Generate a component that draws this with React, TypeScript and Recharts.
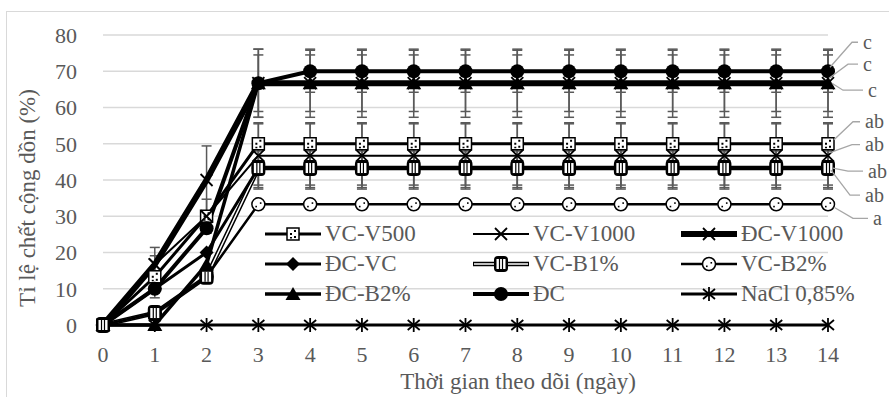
import React from "react"
import { LineChart, Line, XAxis, YAxis, CartesianGrid, ErrorBar } from "recharts"

const days = [0, 1, 2, 3, 4, 5, 6, 7, 8, 9, 10, 11, 12, 13, 14]
const yTicks = [0, 10, 20, 30, 40, 50, 60, 70, 80]

// cumulative mortality (%) per day
const vcV500 = [0, 13.3, 30, 50, 50, 50, 50, 50, 50, 50, 50, 50, 50, 50, 50]
const vcV1000 = [0, 16.7, 30, 46.7, 46.7, 46.7, 46.7, 46.7, 46.7, 46.7, 46.7, 46.7, 46.7, 46.7, 46.7]
const dcV1000 = [0, 16.7, 40, 66.7, 66.7, 66.7, 66.7, 66.7, 66.7, 66.7, 66.7, 66.7, 66.7, 66.7, 66.7]
const dcVc = [0, 10, 20, 43.3, 43.3, 43.3, 43.3, 43.3, 43.3, 43.3, 43.3, 43.3, 43.3, 43.3, 43.3]
const vcB1 = [0, 3.3, 13.3, 43.3, 43.3, 43.3, 43.3, 43.3, 43.3, 43.3, 43.3, 43.3, 43.3, 43.3, 43.3]
const vcB2 = [0, 3.3, 13.3, 33.3, 33.3, 33.3, 33.3, 33.3, 33.3, 33.3, 33.3, 33.3, 33.3, 33.3, 33.3]
const dcB2 = [0, 0, 16.7, 66.7, 66.7, 66.7, 66.7, 66.7, 66.7, 66.7, 66.7, 66.7, 66.7, 66.7, 66.7]
const dc = [0, 10, 26.7, 66.7, 70, 70, 70, 70, 70, 70, 70, 70, 70, 70, 70]
const nacl = [0, 0, 0, 0, 0, 0, 0, 0, 0, 0, 0, 0, 0, 0, 0]

// error bars (±)
const eVcV500 = [0, 5.8, 4.7, 5.8, 5.8, 5.8, 5.8, 5.8, 5.8, 5.8, 5.8, 5.8, 5.8, 5.8, 5.8]
const eVcV1000 = [0, 0, 0, 8.8, 8.8, 8.8, 8.8, 8.8, 8.8, 8.8, 8.8, 8.8, 8.8, 8.8, 8.8]
const eDcV1000 = [0, 4.7, 9.4, 9.4, 9.4, 9.4, 9.4, 9.4, 9.4, 9.4, 9.4, 9.4, 9.4, 9.4, 9.4]
const eDcVc = [0, 0, 0, 5.8, 5.8, 5.8, 5.8, 5.8, 5.8, 5.8, 5.8, 5.8, 5.8, 5.8, 5.8]
const eVcB1 = [0, 0, 0, 4.7, 4.7, 4.7, 4.7, 4.7, 4.7, 4.7, 4.7, 4.7, 4.7, 4.7, 4.7]
const eDcB2 = [0, 0, 0, 7.8, 7.8, 7.8, 7.8, 7.8, 7.8, 7.8, 7.8, 7.8, 7.8, 7.8, 7.8]
const eDc = [0, 0, 0, 9.4, 5.8, 5.8, 5.8, 5.8, 5.8, 5.8, 5.8, 5.8, 5.8, 5.8, 5.8]

const FONT = "'Liberation Serif', 'Times New Roman', serif"
const GRAY = "#595959"

type Marker = (cx: number, cy: number) => React.ReactNode

const dottedSquare: Marker = (cx, cy) => (
  <g>
    <rect x={cx - 6} y={cy - 6} width={12} height={12} fill="#fff" stroke="#000" strokeWidth={1.5} />
    <rect x={cx + 1} y={cy - 4} width={2} height={2} fill="#000" />
    <rect x={cx - 3} y={cy - 1} width={2} height={2} fill="#000" />
    <rect x={cx + 1} y={cy + 2} width={2} height={2} fill="#000" />
    <rect x={cx - 3} y={cy + 3} width={2} height={1.5} fill="#000" />
  </g>
)
const cross: Marker = (cx, cy) => (
  <g stroke="#000" strokeWidth={1.8}>
    <line x1={cx - 6} y1={cy - 6} x2={cx + 6} y2={cy + 6} />
    <line x1={cx - 6} y1={cy + 6} x2={cx + 6} y2={cy - 6} />
  </g>
)
const diamond: Marker = (cx, cy) => (
  <polygon points={`${cx},${cy - 7} ${cx + 7},${cy} ${cx},${cy + 7} ${cx - 7},${cy}`} fill="#000" />
)
const striped: Marker = (cx, cy) => (
  <g>
    <rect x={cx - 7} y={cy - 8} width={14} height={16} rx={4} fill="#000" />
    <rect x={cx - 4.5} y={cy - 5} width={9} height={10} fill="#fff" />
    <line x1={cx - 1.5} y1={cy - 5} x2={cx - 1.5} y2={cy + 5} stroke="#000" strokeWidth={1.2} />
    <line x1={cx + 1.5} y1={cy - 5} x2={cx + 1.5} y2={cy + 5} stroke="#000" strokeWidth={1.2} />
  </g>
)
const openCircle: Marker = (cx, cy) => (
  <g>
    <circle cx={cx} cy={cy} r={6.5} fill="#fff" stroke="#000" strokeWidth={1.5} />
    <rect x={cx - 3} y={cy + 1.5} width={1.6} height={1.6} fill="#000" />
    <rect x={cx + 1.5} y={cy - 2} width={1.6} height={1.6} fill="#000" />
  </g>
)
const triangle: Marker = (cx, cy) => (
  <polygon points={`${cx},${cy - 7} ${cx + 7.5},${cy + 6} ${cx - 7.5},${cy + 6}`} fill="#000" />
)
const solidCircle: Marker = (cx, cy) => <circle cx={cx} cy={cy} r={7} fill="#000" />
const star: Marker = (cx, cy) => (
  <g stroke="#000" strokeWidth={1.8}>
    <line x1={cx} y1={cy - 7} x2={cx} y2={cy + 7} />
    <line x1={cx - 6} y1={cy - 5} x2={cx + 6} y2={cy + 5} />
    <line x1={cx - 6} y1={cy + 5} x2={cx + 6} y2={cy - 5} />
  </g>
)

type Note = { text: string; sx: number; sy: number; ex: number; tx: number; ty: number }

type Series = {
  key: string
  name: string
  values: number[]
  errors: number[] | null
  width: number
  marker: Marker
  double?: boolean
  note?: Note
}

const series: Series[] = [
  { key: "vcV500", name: "VC-V500", values: vcV500, errors: eVcV500, width: 3, marker: dottedSquare,
    note: { text: "ab", sx: 6, sy: -4, ex: 25, tx: 37, ty: -22 } },
  { key: "vcV1000", name: "VC-V1000", values: vcV1000, errors: eVcV1000, width: 2, marker: cross,
    note: { text: "ab", sx: 2, sy: -3, ex: 24, tx: 37, ty: -11 } },
  { key: "dcV1000", name: "ĐC-V1000", values: dcV1000, errors: eDcV1000, width: 6, marker: cross,
    note: { text: "c", sx: 1, sy: -5, ex: 20, tx: 35, ty: -19 } },
  { key: "vcB1", name: "VC-B1%", values: vcB1, errors: eVcB1, width: 4.5, marker: striped, double: true,
    note: { text: "ab", sx: 5, sy: 0, ex: 20, tx: 40, ty: 3 } },
  { key: "dcVc", name: "ĐC-VC", values: dcVc, errors: eDcVc, width: 3, marker: diamond,
    note: { text: "ab", sx: 3, sy: 2, ex: 22, tx: 37, ty: 27 } },
  { key: "vcB2", name: "VC-B2%", values: vcB2, errors: null, width: 2.5, marker: openCircle,
    note: { text: "a", sx: 6, sy: 3, ex: 25, tx: 45, ty: 14 } },
  { key: "dcB2", name: "ĐC-B2%", values: dcB2, errors: eDcB2, width: 3.5, marker: triangle,
    note: { text: "c", sx: 4, sy: 0, ex: 15, tx: 40, ty: 7 } },
  { key: "dc", name: "ĐC", values: dc, errors: eDc, width: 4, marker: solidCircle,
    note: { text: "c", sx: 2, sy: -4, ex: 24, tx: 35, ty: -29 } },
  { key: "nacl", name: "NaCl 0,85%", values: nacl, errors: null, width: 3, marker: star },
]

const legendOrder = ["vcV500", "vcV1000", "dcV1000", "dcVc", "vcB1", "vcB2", "dcB2", "dc", "nacl"]

const data = days.map((d, i) => {
  const row: Record<string, number | null> = { day: d }
  series.forEach((s) => {
    row[s.key] = s.values[i]
    row[s.key + "_e"] = s.errors && s.errors[i] ? s.errors[i] : null
  })
  return row
})

const lastIndex = days.length - 1

function noteLabel(note?: Note) {
  return (props: any) => {
    if (!note || props.index !== lastIndex) return null
    const { x, y } = props
    return (
      <g key={`note-${note.tx}-${note.ty}`}>
        <polyline
          points={`${x + note.sx},${y + note.sy} ${x + note.ex},${y + note.ty} ${x + note.tx - 5},${y + note.ty}`}
          fill="none"
          stroke="#a6a6a6"
          strokeWidth={1.3}
        />
        <text x={x + note.tx} y={y + note.ty} dy="0.33em" fontSize={20} fill={GRAY} fontFamily={FONT}>
          {note.text}
        </text>
      </g>
    )
  }
}

function LegendBox() {
  return (
    <div
      style={{
        position: "absolute",
        left: 265,
        top: 219,
        display: "grid",
        gridTemplateColumns: "208px 208px 208px",
        fontFamily: FONT,
      }}
    >
      {legendOrder.map((k) => {
        const s = series.find((x) => x.key === k)!
        return (
          <div key={k} style={{ display: "flex", alignItems: "center", height: 30 }}>
            <svg width={56} height={22} style={{ overflow: "visible" }}>
              <line x1={0} y1={11} x2={56} y2={11} stroke="#000" strokeWidth={s.width} />
              {s.double && <line x1={1} y1={11} x2={55} y2={11} stroke="#fff" strokeWidth={1.5} />}
              {s.marker(28, 11)}
            </svg>
            <span style={{ fontSize: 23, color: GRAY, marginLeft: 4, lineHeight: "22px", whiteSpace: "nowrap" }}>
              {s.name}
            </span>
          </div>
        )
      })}
    </div>
  )
}

export default function App() {
  return (
    <div style={{ position: "absolute", left: 0, top: 0, width: 889, height: 397, overflow: "hidden", background: "#fff" }}>
      <div
        style={{
          position: "absolute",
          left: 6,
          top: 11,
          width: 900,
          height: 400,
          border: "1.5px solid #d9d9d9",
        }}
      />
      <LineChart width={889} height={397} data={data} margin={{ top: 35, right: 61, bottom: 42, left: 0 }}>
        <CartesianGrid vertical={false} stroke="#d9d9d9" strokeWidth={1.5} />
        <XAxis
          dataKey="day"
          type="number"
          domain={[0, 14]}
          ticks={days}
          interval={0}
          axisLine={false}
          tickLine={false}
          tickSize={0}
          tickMargin={21}
          height={30}
          tick={{ fontSize: 22, fill: GRAY, fontFamily: FONT }}
          label={(props: any) => {
            const vb = props.viewBox
            return (
              <text x={518} y={vb.y + 64} textAnchor="middle" fontSize={23} fill={GRAY} fontFamily={FONT}>
                Thời gian theo dõi (ngày)
              </text>
            )
          }}
        />
        <YAxis
          domain={[0, 80]}
          ticks={yTicks}
          interval={0}
          width={103}
          axisLine={false}
          tickLine={false}
          tickSize={0}
          tickMargin={26}
          tick={{ fontSize: 22, fill: GRAY, fontFamily: FONT }}
          label={(props: any) => {
            const vb = props.viewBox
            const cx = 27
            const cy = vb.y + vb.height / 2 + 18
            return (
              <text
                x={cx}
                y={cy}
                transform={`rotate(-90 ${cx} ${cy})`}
                textAnchor="middle"
                dominantBaseline="central"
                fontSize={23}
                fill={GRAY}
                fontFamily={FONT}
              >
                Tỉ lệ chết cộng dồn (%)
              </text>
            )
          }}
        />
        {series.map((s) => [
          <Line
            key={s.key}
            dataKey={s.key}
            name={s.name}
            type="linear"
            stroke="#000"
            strokeWidth={s.width}
            dot={s.double ? false : (p: any) => <g key={`${s.key}-${p.index}`}>{s.marker(p.cx, p.cy)}</g>}
            activeDot={false}
            isAnimationActive={false}
            label={noteLabel(s.note)}
          >
            {s.errors && (
              <ErrorBar dataKey={s.key + "_e"} direction="y" width={5} stroke={GRAY} strokeWidth={1.5} />
            )}
          </Line>,
          s.double ? (
            <Line
              key={s.key + "-core"}
              dataKey={s.key}
              legendType="none"
              type="linear"
              stroke="#fff"
              strokeWidth={1.5}
              dot={false}
              activeDot={false}
              isAnimationActive={false}
            />
          ) : null,
        ])}
        <Line
          key="vcB1-dots"
          dataKey="vcB1"
          legendType="none"
          type="linear"
          stroke="none"
          strokeWidth={0}
          dot={(p: any) => <g key={`vcB1d-${p.index}`}>{striped(p.cx, p.cy)}</g>}
          activeDot={false}
          isAnimationActive={false}
        />
      </LineChart>
      <LegendBox />
    </div>
  )
}
